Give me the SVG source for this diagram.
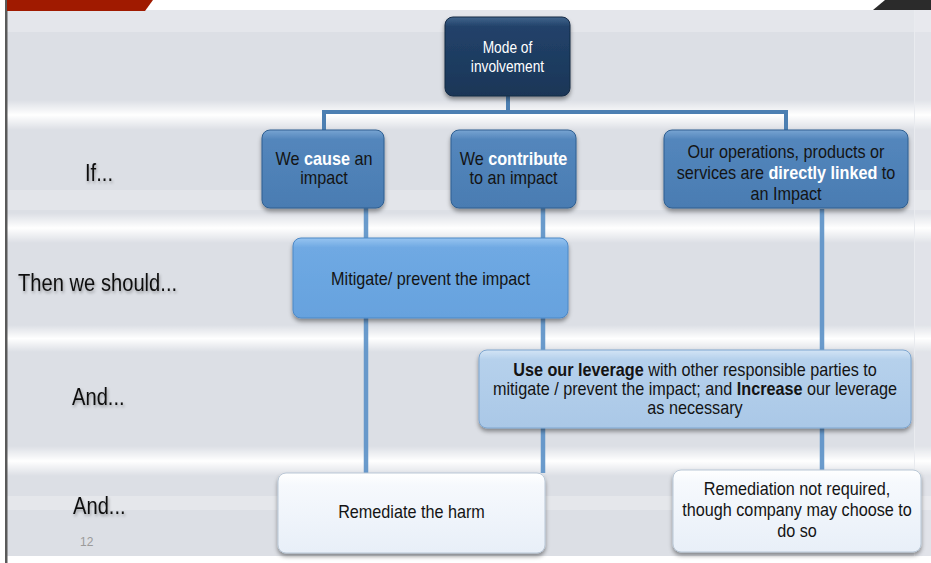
<svg xmlns="http://www.w3.org/2000/svg" width="931" height="563" viewBox="0 0 931 563">
<style>
  .t{font-family:"Liberation Sans",Arial,Helvetica,sans-serif;font-size:18px;fill:#141414;text-anchor:middle}
  .w{fill:#ffffff;font-weight:bold}
  .b{font-weight:bold}
  .lbl{font-family:"Liberation Sans",Arial,Helvetica,sans-serif;font-size:24px;fill:#111111}
  .conn{fill:none;stroke:#4c7fb2;stroke-width:4}
  .down{fill:none;stroke:#5a90c6;stroke-width:4.5;opacity:0.9}
</style>
<defs>
  <linearGradient id="gMode" x1="0" y1="0" x2="0" y2="1">
    <stop offset="0" stop-color="#42658c"/>
    <stop offset="0.12" stop-color="#22426a"/>
    <stop offset="1" stop-color="#1a3657"/>
  </linearGradient>
  <linearGradient id="gMid" x1="0" y1="0" x2="0" y2="1">
    <stop offset="0" stop-color="#78a4d2"/>
    <stop offset="0.12" stop-color="#5386bc"/>
    <stop offset="1" stop-color="#4a7cb2"/>
  </linearGradient>
  <linearGradient id="gMit" x1="0" y1="0" x2="0" y2="1">
    <stop offset="0" stop-color="#97c4f0"/>
    <stop offset="0.12" stop-color="#6fa9e3"/>
    <stop offset="1" stop-color="#66a2de"/>
  </linearGradient>
  <linearGradient id="gLev" x1="0" y1="0" x2="0" y2="1">
    <stop offset="0" stop-color="#d3e4f5"/>
    <stop offset="0.12" stop-color="#b6d1ec"/>
    <stop offset="1" stop-color="#aac8e7"/>
  </linearGradient>
  <linearGradient id="gRem" x1="0" y1="0" x2="0" y2="1">
    <stop offset="0" stop-color="#ffffff"/>
    <stop offset="0.15" stop-color="#f6f9fd"/>
    <stop offset="1" stop-color="#e8eff8"/>
  </linearGradient>
  <linearGradient id="band" x1="0" y1="0" x2="0" y2="1">
    <stop offset="0" stop-color="#ffffff" stop-opacity="0"/>
    <stop offset="0.5" stop-color="#ffffff" stop-opacity="1"/>
    <stop offset="1" stop-color="#ffffff" stop-opacity="0"/>
  </linearGradient>
  <filter id="sh" x="-10%" y="-10%" width="120%" height="130%">
    <feDropShadow dx="0" dy="3" stdDeviation="2" flood-color="#000" flood-opacity="0.4"/>
  </filter>
  <filter id="tsh" x="-10%" y="-20%" width="120%" height="150%">
    <feDropShadow dx="1" dy="2" stdDeviation="1.5" flood-color="#000" flood-opacity="0.3"/>
  </filter>
</defs>

<!-- background -->
<rect x="0" y="0" width="931" height="563" fill="#ffffff"/>
<rect x="7" y="10" width="924" height="546" fill="#dcdfe5"/>
<rect x="7" y="10" width="924" height="22" fill="#e4e6eb"/>
<rect x="7" y="100" width="924" height="30" fill="url(#band)"/>
<rect x="7" y="213" width="924" height="30" fill="url(#band)"/>
<rect x="7" y="325" width="924" height="27" fill="url(#band)"/>
<rect x="7" y="446" width="924" height="30" fill="url(#band)"/>
<rect x="7" y="190" width="924" height="20" fill="#ffffff" opacity="0.2"/>
<rect x="7" y="496" width="924" height="14" fill="#ffffff" opacity="0.25"/>
<rect x="914" y="10" width="17" height="546" fill="#ffffff" opacity="0.15"/>
<line x1="914.5" y1="10" x2="914.5" y2="556" stroke="#e9ebef" stroke-width="1"/>
<rect x="5" y="0" width="2.5" height="563" fill="#5a5a5a"/>
<polygon points="7,0 153,0 145,11 7,11" fill="#a01a00"/>
<polygon points="885,0 931,0 931,10 873,10" fill="#2b2b2b"/>

<!-- connectors -->
<g id="connectors">
  <path class="conn" d="M508 96 V112"/>
  <path class="conn" d="M324 130 V112 H786 V130"/>
  <path class="down" d="M366 208 V473"/>
  <path class="down" d="M543 208 V473"/>
  <path class="down" d="M822 209 V470"/>
</g>

<!-- row labels -->
<g id="labels" filter="url(#tsh)">
  <g transform="translate(85 0) scale(0.84 1)"><text class="lbl" x="0" y="181">If...</text></g>
  <g transform="translate(18 0) scale(0.84 1)"><text class="lbl" x="0" y="291">Then we should...</text></g>
  <g transform="translate(72 0) scale(0.84 1)"><text class="lbl" x="0" y="405">And...</text></g>
  <g transform="translate(73 0) scale(0.84 1)"><text class="lbl" x="0" y="514">And...</text></g>
</g>
<text x="80" y="546" font-family="Liberation Sans, Arial, sans-serif" font-size="12" fill="#9a9a9a">12</text>

<!-- nodes -->
<g id="mode">
  <rect x="445" y="17" width="125" height="79" rx="8" fill="url(#gMode)" stroke="#132a45" stroke-width="1" filter="url(#sh)"/>
  <g transform="translate(507.5 0) scale(0.86 1)">
    <text class="t" style="fill:#ffffff;font-size:16px" x="0" y="53">Mode of</text>
    <text class="t" style="fill:#ffffff;font-size:16px" x="0" y="72">involvement</text>
  </g>
</g>

<g id="cause">
  <rect x="262" y="130" width="122" height="78" rx="8" fill="url(#gMid)" stroke="#2f5f91" stroke-width="1" filter="url(#sh)"/>
  <g transform="translate(324 0) scale(0.9 1)">
    <text class="t" x="0" y="165">We <tspan class="w">cause</tspan> an</text>
    <text class="t" x="0" y="184">impact</text>
  </g>
</g>

<g id="contribute">
  <rect x="451" y="130" width="125" height="78" rx="8" fill="url(#gMid)" stroke="#2f5f91" stroke-width="1" filter="url(#sh)"/>
  <g transform="translate(513.5 0) scale(0.9 1)">
    <text class="t" x="0" y="165">We <tspan class="w">contribute</tspan></text>
    <text class="t" x="0" y="184">to an impact</text>
  </g>
</g>

<g id="linked">
  <rect x="664" y="130" width="244" height="78" rx="8" fill="url(#gMid)" stroke="#2f5f91" stroke-width="1" filter="url(#sh)"/>
  <g transform="translate(786 0) scale(0.9 1)">
    <text class="t" x="0" y="158">Our operations, products or</text>
    <text class="t" x="0" y="179">services are <tspan class="w">directly linked</tspan> to</text>
    <text class="t" x="0" y="200">an Impact</text>
  </g>
</g>

<g id="mitigate">
  <rect x="293" y="238" width="275" height="80" rx="8" fill="url(#gMit)" stroke="#4c88c6" stroke-width="1" filter="url(#sh)"/>
  <g transform="translate(430.5 0) scale(0.9 1)">
    <text class="t" x="0" y="285">Mitigate/ prevent the impact</text>
  </g>
</g>

<g id="leverage">
  <rect x="479" y="350" width="432" height="78" rx="8" fill="url(#gLev)" stroke="#7ea6cf" stroke-width="1" filter="url(#sh)"/>
  <g transform="translate(695 0) scale(0.9 1)">
    <text class="t" x="0" y="376"><tspan class="b">Use our leverage</tspan> with other responsible parties to</text>
    <text class="t" x="0" y="395">mitigate / prevent the impact; and <tspan class="b">Increase</tspan> our leverage</text>
    <text class="t" x="0" y="414">as necessary</text>
  </g>
</g>

<g id="remediate">
  <rect x="278" y="473" width="267" height="80" rx="8" fill="url(#gRem)" stroke="#b9c7d6" stroke-width="1" filter="url(#sh)"/>
  <g transform="translate(411.5 0) scale(0.9 1)">
    <text class="t" x="0" y="518">Remediate the harm</text>
  </g>
</g>

<g id="notRequired">
  <rect x="673" y="470" width="248" height="82" rx="8" fill="url(#gRem)" stroke="#b9c7d6" stroke-width="1" filter="url(#sh)"/>
  <g transform="translate(797 0) scale(0.9 1)">
    <text class="t" x="0" y="495">Remediation not required,</text>
    <text class="t" x="0" y="516">though company may choose to</text>
    <text class="t" x="0" y="537">do so</text>
  </g>
</g>
</svg>
